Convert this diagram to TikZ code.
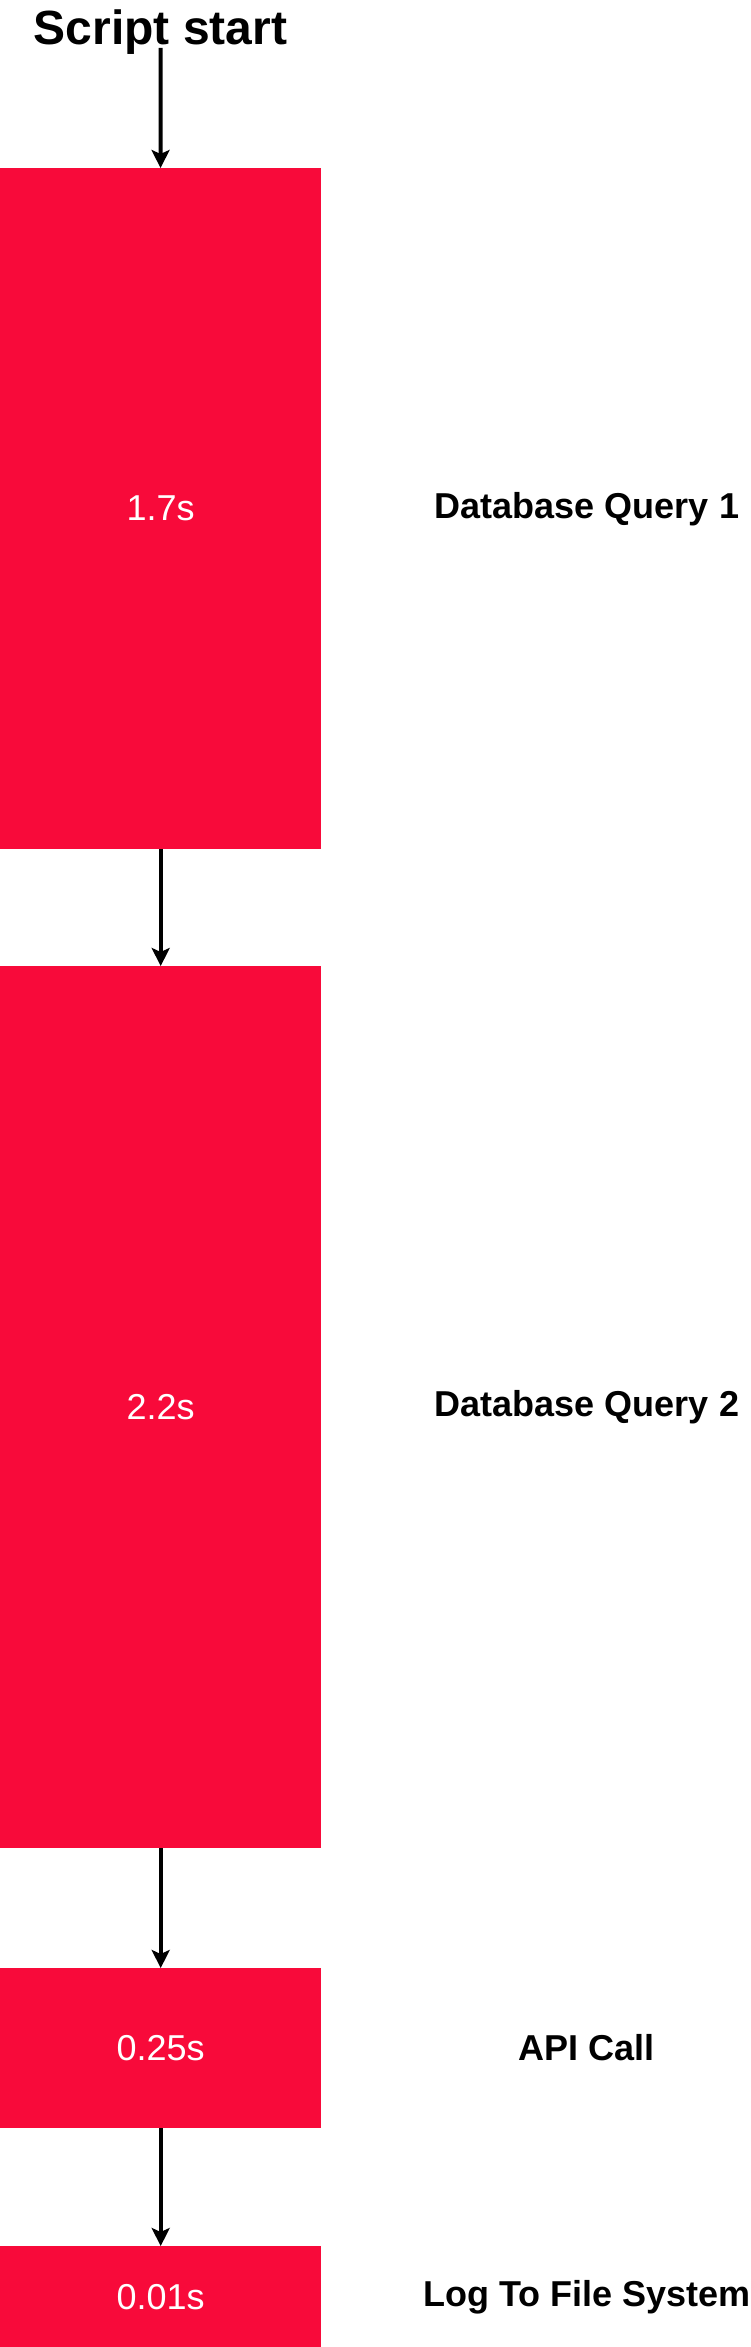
\documentclass[tikz,border=0pt]{standalone}
\usepackage{fontspec}
\setmainfont{Liberation Sans}
\usetikzlibrary{arrows.meta}
\definecolor{timered}{HTML}{F80A3A}
\tikzset{
  timebox/.style={fill=timered, text=white, inner sep=0pt, anchor=north west,
    minimum width=321pt, font=\fontsize{36}{43}\selectfont},
  tasklabel/.style={font=\bfseries\fontsize{36}{43}\selectfont, inner sep=0pt},
  flow/.style={-{Stealth[length=18pt,width=18pt,inset=4pt]}, line width=4pt}
}
\begin{document}
\begin{tikzpicture}[x=1pt,y=-1pt]
\useasboundingbox (0,0) rectangle (750,2347);
\node[font=\bfseries\fontsize{48}{58}\selectfont, inner sep=0pt, anchor=base] (start) at (160.5,45) {Script start};
\coordinate (startend) at (160.5,48);

\node[timebox, minimum height=681pt] (q1) at (0,168) {1.7s};
\node[timebox, minimum height=882pt] (q2) at (0,966) {2.2s};
\node[timebox, minimum height=160pt] (api) at (0,1968) {0.25s};
\node[timebox, minimum height=101pt] (log) at (0,2246) {0.01s};

\node[tasklabel] (lq1) at (587,509) {Database Query 1};
\node[tasklabel] (lq2) at (587,1407) {Database Query 2};
\node[tasklabel] (lapi) at (587,2048) {API Call};
\node[tasklabel] (llog) at (587,2297) {Log To File System};

\draw[flow] (startend) -- (q1);
\draw[flow] (q1) -- (q2);
\draw[flow] (q2) -- (api);
\draw[flow] (api) -- (log);
\end{tikzpicture}
\end{document}
